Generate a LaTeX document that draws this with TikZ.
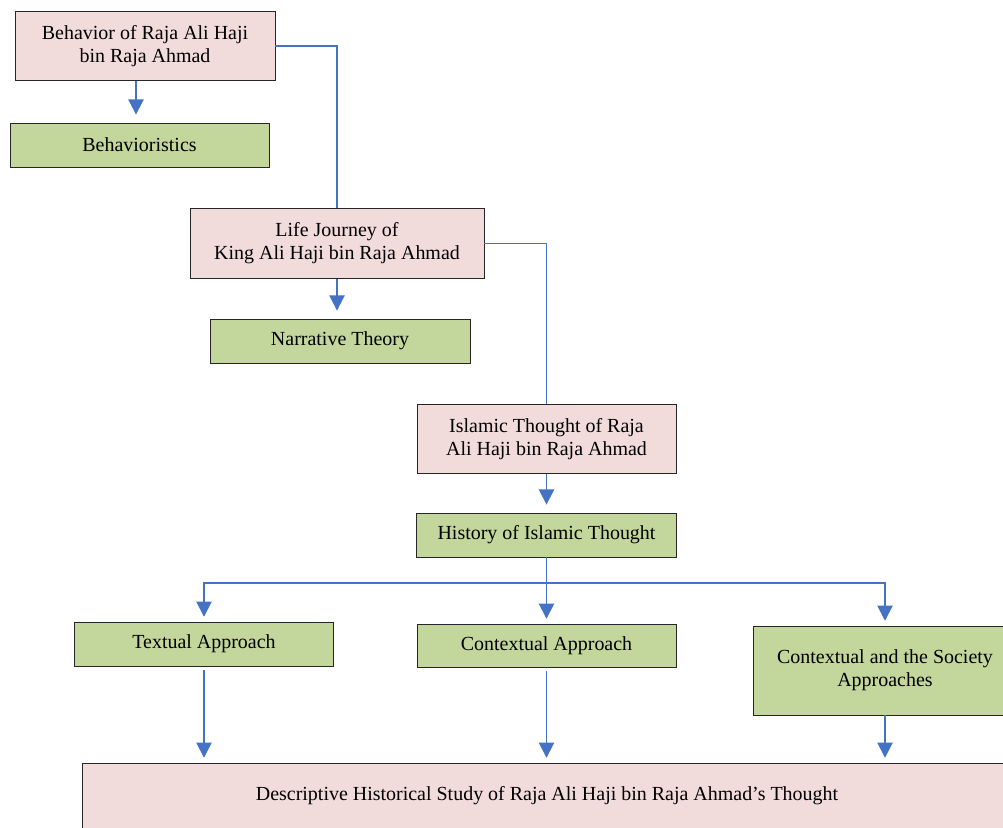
\documentclass[tikz,border=0pt]{standalone}
\usepackage{fontspec}
\setmainfont{Liberation Serif}
\usepackage{tikz}
\usetikzlibrary{calc}
\usetikzlibrary{arrows.meta}
\definecolor{flowblue}{RGB}{68, 114, 196}
\definecolor{rosepink}{RGB}{242, 220, 219}
\definecolor{leafgreen}{RGB}{195, 214, 155}

\tikzset{
    box/.style     = {draw=black!85, line width=0.6pt, align=center, inner sep=2pt,
                      font=\fontsize{14.2}{16.5}\selectfont},
    topicbox/.style  = {box, fill=rosepink},
    theorybox/.style = {box, fill=leafgreen},
    flow/.style    = {draw=flowblue, line width=1.3pt},
    flowarr/.style = {flow, -{Triangle[width=0.38cm, length=0.38cm]}, shorten >=0.2cm},
}

\begin{document}
\begin{tikzpicture}[x=0.025cm, y=-0.025cm]
            \useasboundingbox (0,0) rectangle (1003,827);
            % first level
            \node[topicbox,  minimum width=6.5cm,   minimum height=1.725cm] (behavior)  at (145.0, 46.0) {Behavior of Raja Ali Haji\\bin Raja Ahmad};
            \node[theorybox, minimum width=6.475cm, minimum height=1.1cm]   (behavioristics) at (139.5,145.0) {Behavioristics};
            % second level
            \node[topicbox,  minimum width=7.35cm,  minimum height=1.75cm]  (journey)   at (337.0,243.5) {Life Journey of\\King Ali Haji bin Raja Ahmad};
            \node[theorybox, minimum width=6.5cm,   minimum height=1.1cm]   (narrative) at (340.0,341.0) {Narrative Theory};
            % third level
            \node[topicbox,  minimum width=6.475cm, minimum height=1.725cm] (islamic)   at (546.5,439.0) {Islamic Thought of Raja\\Ali Haji bin Raja Ahmad};
            \node[theorybox, minimum width=6.5cm,   minimum height=1.1cm]   (history)   at (546.5,535.0) {History of Islamic Thought};
            % approaches
            \node[theorybox, minimum width=6.475cm, minimum height=1.1cm]   (textual)   at (204.0,644.0) {Textual Approach};
            \node[theorybox, minimum width=6.475cm, minimum height=1.075cm] (contextual) at (546.5,645.5) {Contextual Approach};
            \node[theorybox, minimum width=6.6cm,   minimum height=2.225cm] (society)   at (885.0,670.5) {Contextual and the Society\\Approaches};
            \node[topicbox,  minimum width=23.2cm,  minimum height=1.625cm] (study)     at (547.0,795.5) {Descriptive Historical Study of Raja Ali Haji bin Raja Ahmad's Thought};
            \coordinate (split) at (546.5,583);

            % connectors
            \draw[flowarr] ([xshift=-0.225cm]behavior.south) -- ([xshift=-0.225cm]behavior.south |- behavioristics.north);
            \draw[flow] (behavior.east) -| (journey.north);
            \draw[flowarr] (journey.south) -- (journey.south |- narrative.north);
            \draw[flow] (journey.east) -| (islamic.north);
            \draw[flowarr] (islamic.south) -- (islamic.south |- history.north);
            \draw[flow] (history.south) -- (split);
            \draw[flowarr, shorten >=0.12cm] (split) -| (textual.north);
            \draw[flowarr, shorten >=0.12cm] (split) -- (contextual.north);
            \draw[flowarr, shorten >=0.12cm] (split) -| (society.north);
            \draw[flowarr, shorten <=0.1cm, shorten >=0.12cm] (textual.south) -- (textual.south |- study.north);
            \draw[flowarr, shorten <=0.1cm, shorten >=0.12cm] (contextual.south) -- (contextual.south |- study.north);
            \draw[flowarr, shorten >=0.12cm] (society.south) -- (society.south |- study.north);
        \end{tikzpicture}
\end{document}
